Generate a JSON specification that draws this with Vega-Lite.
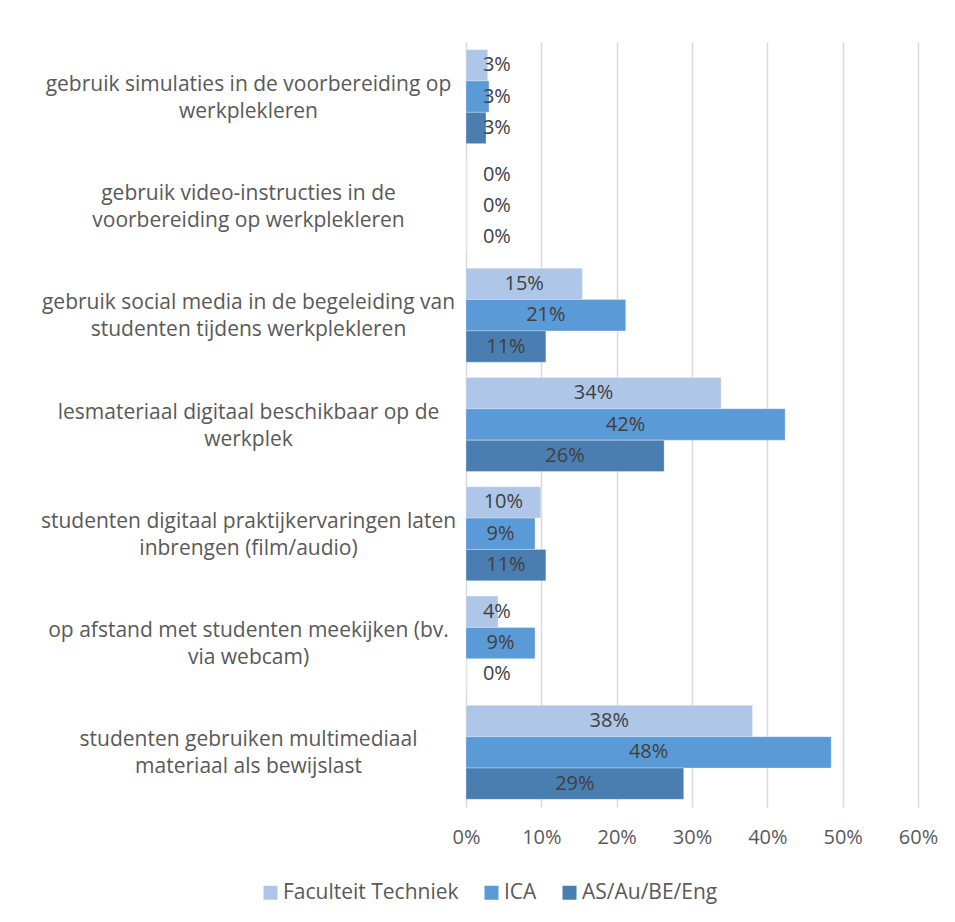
{
  "$schema": "https://vega.github.io/schema/vega-lite/v6.json",
  "width": 452,
  "height": 765,
  "autosize": {"type": "none"},
  "padding": {"left": 466, "top": 42, "right": 37, "bottom": 115},
  "background": "white",
  "config": {"view": {"stroke": null}, "font": "Open Sans"},
  "data": {
    "values": [
      {"category": "gebruik simulaties in de voorbereiding op\nwerkplekleren", "series": "Faculteit Techniek", "value": 0.0288},
      {"category": "gebruik simulaties in de voorbereiding op\nwerkplekleren", "series": "ICA", "value": 0.0305},
      {"category": "gebruik simulaties in de voorbereiding op\nwerkplekleren", "series": "AS/Au/BE/Eng", "value": 0.0266},
      {"category": "gebruik video-instructies in de\nvoorbereiding op werkplekleren", "series": "Faculteit Techniek", "value": 0},
      {"category": "gebruik video-instructies in de\nvoorbereiding op werkplekleren", "series": "ICA", "value": 0},
      {"category": "gebruik video-instructies in de\nvoorbereiding op werkplekleren", "series": "AS/Au/BE/Eng", "value": 0},
      {"category": "gebruik social media in de begeleiding van\nstudenten tijdens werkplekleren", "series": "Faculteit Techniek", "value": 0.1545},
      {"category": "gebruik social media in de begeleiding van\nstudenten tijdens werkplekleren", "series": "ICA", "value": 0.212},
      {"category": "gebruik social media in de begeleiding van\nstudenten tijdens werkplekleren", "series": "AS/Au/BE/Eng", "value": 0.106},
      {"category": "lesmateriaal digitaal beschikbaar op de\nwerkplek", "series": "Faculteit Techniek", "value": 0.3386},
      {"category": "lesmateriaal digitaal beschikbaar op de\nwerkplek", "series": "ICA", "value": 0.4236},
      {"category": "lesmateriaal digitaal beschikbaar op de\nwerkplek", "series": "AS/Au/BE/Eng", "value": 0.263},
      {"category": "studenten digitaal praktijkervaringen laten\ninbrengen (film/audio)", "series": "Faculteit Techniek", "value": 0.0992},
      {"category": "studenten digitaal praktijkervaringen laten\ninbrengen (film/audio)", "series": "ICA", "value": 0.0916},
      {"category": "studenten digitaal praktijkervaringen laten\ninbrengen (film/audio)", "series": "AS/Au/BE/Eng", "value": 0.106},
      {"category": "op afstand met studenten meekijken (bv.\nvia webcam)", "series": "Faculteit Techniek", "value": 0.0425},
      {"category": "op afstand met studenten meekijken (bv.\nvia webcam)", "series": "ICA", "value": 0.0916},
      {"category": "op afstand met studenten meekijken (bv.\nvia webcam)", "series": "AS/Au/BE/Eng", "value": 0},
      {"category": "studenten gebruiken multimediaal\nmateriaal als bewijslast", "series": "Faculteit Techniek", "value": 0.3803},
      {"category": "studenten gebruiken multimediaal\nmateriaal als bewijslast", "series": "ICA", "value": 0.4848},
      {"category": "studenten gebruiken multimediaal\nmateriaal als bewijslast", "series": "AS/Au/BE/Eng", "value": 0.289}
    ]
  },
  "transform": [{"calculate": "max(datum.value / 2, 0.041)", "as": "mid"}],
  "encoding": {
    "y": {
      "field": "category",
      "type": "nominal",
      "sort": null,
      "scale": {"paddingInner": 0.14, "paddingOuter": 0.07},
      "axis": {
        "title": null,
        "ticks": false,
        "domain": false,
        "labelAlign": "center",
        "labelBaseline": "middle",
        "labelPadding": 218,
        "labelOffset": -12,
        "labelFontSize": 21,
        "labelColor": "#595959",
        "labelLineHeight": 27,
        "labelLimit": 0,
        "labelExpr": "split(datum.label, '\\n')"
      }
    },
    "yOffset": {
      "field": "series",
      "type": "nominal",
      "sort": ["Faculteit Techniek", "ICA", "AS/Au/BE/Eng"],
      "scale": {"paddingInner": 0, "paddingOuter": 0}
    }
  },
  "layer": [
    {
      "mark": {"type": "bar", "stroke": "#ffffff", "strokeWidth": 0.6, "strokeOpacity": 0.5},
      "encoding": {
        "x": {
          "field": "value",
          "type": "quantitative",
          "scale": {"domain": [0, 0.6], "nice": false},
          "axis": {
            "title": null,
            "values": [0, 0.1, 0.2, 0.3, 0.4, 0.5, 0.6],
            "format": ".0%",
            "grid": true,
            "gridColor": "#d9d9d9",
            "gridWidth": 1.5,
            "domain": false,
            "ticks": false,
            "labelFlush": false,
            "labelPadding": 20,
            "labelFontSize": 20,
            "labelColor": "#595959"
          }
        },
        "color": {
          "field": "series",
          "type": "nominal",
          "sort": ["Faculteit Techniek", "ICA", "AS/Au/BE/Eng"],
          "scale": {"range": ["#aec6e7", "#5a9ad6", "#4a7eb1"]},
          "legend": {
            "title": null,
            "orient": "none",
            "direction": "horizontal",
            "legendX": -206,
            "legendY": 840,
            "symbolType": "square",
            "symbolSize": 196,
            "symbolStrokeWidth": 0,
            "labelFontSize": 21,
            "labelColor": "#595959",
            "labelOffset": 2,
            "columnPadding": 22,
            "labelLimit": 300,
            "padding": 0
          }
        }
      }
    },
    {
      "mark": {"type": "text", "fontSize": 20, "color": "#404040", "align": "center", "baseline": "middle"},
      "encoding": {
        "x": {"field": "mid", "type": "quantitative"},
        "text": {"field": "value", "type": "quantitative", "format": ".0%"}
      }
    }
  ]
}
